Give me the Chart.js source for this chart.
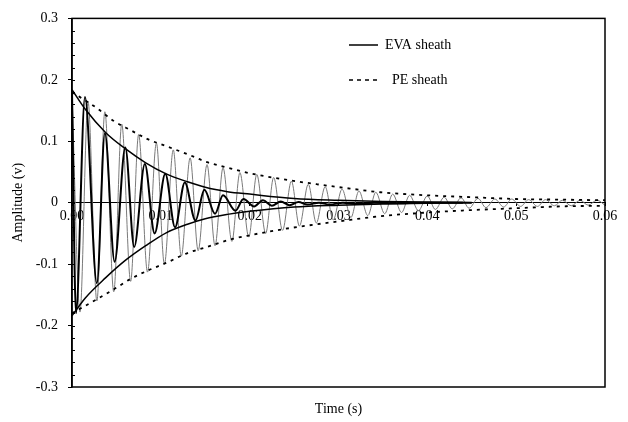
<!DOCTYPE html>
<html>
<head>
<meta charset="utf-8">
<script src="https://cdn.jsdelivr.net/npm/chart.js@4"></script>
<style>
  html, body { margin: 0; padding: 0; background: #fff; }
  #wrap { width: 628px; height: 422px; }
</style>
</head>
<body>
<div id="wrap"><canvas id="chart"></canvas></div>
<script>
// PE sheath signal, peaks and troughs (time s, amplitude v)
const peTime = [0, 0.0009, 0.0018, 0.0028, 0.0037, 0.0047, 0.0056, 0.0066, 0.0075, 0.0085,
  0.0095, 0.0104, 0.0114, 0.0123, 0.0133, 0.0142, 0.0152, 0.0161, 0.0170, 0.0180,
  0.0189, 0.0199, 0.0208, 0.0218, 0.0227, 0.0237, 0.0247, 0.0256, 0.0266, 0.0275,
  0.0285, 0.0294, 0.0304, 0.0314, 0.0323, 0.0333, 0.0342, 0.0352, 0.0361, 0.0371,
  0.0380, 0.0390, 0.0400, 0.0409, 0.0419, 0.0428, 0.0438, 0.0447, 0.0457, 0.0466,
  0.0476, 0.0486, 0.0495, 0.0505, 0.0514, 0.0524, 0.0533, 0.0543, 0.0552, 0.0562,
  0.0572, 0.0581, 0.0591, 0.0600];
const peAmp = [0.178, -0.178, 0.165, -0.160, 0.148, -0.145, 0.128, -0.128, 0.111, -0.113,
  0.097, -0.100, 0.086, -0.087, 0.073, -0.078, 0.062, -0.070, 0.057, -0.063,
  0.049, -0.056, 0.046, -0.050, 0.041, -0.045, 0.035, -0.038, 0.030, -0.033,
  0.026, -0.028, 0.022, -0.024, 0.019, -0.021, 0.017, -0.018, 0.014, -0.016,
  0.012, -0.013, 0.011, -0.011, 0.009, -0.010, 0.008, -0.009, 0.007, -0.008,
  0.006, -0.007, 0.006, -0.006, 0.005, -0.006, 0.005, -0.005, 0.004, -0.005,
  0.004, -0.004, 0.004, -0.004];

// EVA sheath signal
const evaTime = [0, 0.00045, 0.00146, 0.0028, 0.0037, 0.0048, 0.0060, 0.0070, 0.0082, 0.0093,
  0.0105, 0.0116, 0.0127, 0.0139, 0.0149, 0.0161, 0.0170, 0.0184, 0.0193, 0.0205,
  0.0215, 0.0225, 0.0235, 0.0245, 0.0255, 0.0265, 0.0278, 0.0290, 0.0305, 0.0320,
  0.0340, 0.0360, 0.0400, 0.0440];
const evaAmp = [0.180, -0.180, 0.172, -0.131, 0.113, -0.096, 0.090, -0.072, 0.063, -0.050,
  0.047, -0.040, 0.033, -0.029, 0.021, -0.018, 0.012, -0.013, 0.006, -0.006,
  0.004, -0.005, 0.002, -0.004, 0.001, -0.003, 0.000, -0.003, 0.000, -0.002,
  0.000, -0.001, 0.000, 0.000];

// envelopes
const evaEnvTime = [0, 0.0015, 0.0038, 0.006, 0.0083, 0.0106, 0.013, 0.015, 0.0175, 0.02, 0.025, 0.03, 0.035, 0.04, 0.045];
const evaEnvUp = [0.184, 0.152, 0.114, 0.088, 0.065, 0.047, 0.034, 0.025, 0.018, 0.014, 0.007, 0.004, 0.002, 0.001, 0.0005];
const evaEnvLow = [-0.184, -0.155, -0.122, -0.094, -0.070, -0.049, -0.035, -0.026, -0.019, -0.014, -0.007, -0.004, -0.002, -0.001, -0.0005];

const peEnvTime = [0, 0.0027, 0.0046, 0.0066, 0.0086, 0.0106, 0.013, 0.0152, 0.0178, 0.02, 0.0238, 0.0276, 0.0313, 0.0347, 0.04, 0.045, 0.05, 0.055, 0.06];
const peEnvUp = [0.180, 0.155, 0.134, 0.118, 0.103, 0.092, 0.079, 0.066, 0.056, 0.048, 0.038, 0.030, 0.023, 0.017, 0.012, 0.009, 0.006, 0.005, 0.004];
const peEnvLow = [-0.180, -0.158, -0.142, -0.124, -0.110, -0.098, -0.082, -0.072, -0.060, -0.053, -0.043, -0.035, -0.028, -0.022, -0.016, -0.012, -0.009, -0.006, -0.005];

const yTicks = [-0.3, -0.2, -0.1, 0, 0.1, 0.2, 0.3];
const xTicks = [0, 0.01, 0.02, 0.03, 0.04, 0.05, 0.06];

function pts(xs, ys) {
  return xs.map((x, i) => ({ x: x, y: ys[i] }));
}

const FONT = "'Liberation Serif', 'Times New Roman', serif";

// frame, minor ticks, x title and the in-plot legend
const decor = {
  id: 'decor',
  afterDraw(chart) {
    const ctx = chart.ctx;
    const a = chart.chartArea;
    const ys = chart.scales.y;
    ctx.save();
    ctx.strokeStyle = '#000';
    ctx.lineWidth = 1.5;
    ctx.strokeRect(a.left, a.top, a.right - a.left, a.bottom - a.top);
    ctx.lineWidth = 1;
    for (let v = -0.28; v < 0.3; v += 0.02) {
      const y = Math.round(ys.getPixelForValue(v)) + 0.5;
      ctx.beginPath();
      ctx.moveTo(a.left, y);
      ctx.lineTo(a.left + 3, y);
      ctx.stroke();
    }
    ctx.fillStyle = '#000';
    ctx.font = '14px ' + FONT;
    ctx.textAlign = 'center';
    ctx.textBaseline = 'middle';
    ctx.fillText('Time (s)', (a.left + a.right) / 2, 409);

    // legend
    ctx.textAlign = 'left';
    ctx.lineWidth = 1.5;
    ctx.beginPath();
    ctx.moveTo(349, 45);
    ctx.lineTo(378, 45);
    ctx.stroke();
    ctx.fillText('EVA sheath', 385, 45);
    ctx.setLineDash([4, 4]);
    ctx.beginPath();
    ctx.moveTo(349, 80);
    ctx.lineTo(378, 80);
    ctx.stroke();
    ctx.setLineDash([]);
    ctx.fillText('PE sheath', 392, 80);
    ctx.restore();
  }
};

new Chart(document.getElementById('chart'), {
  type: 'line',
  data: {
    datasets: [
      {
        label: 'EVA sheath',
        data: pts(evaTime, evaAmp),
        borderColor: '#000',
        borderWidth: 2,
        pointRadius: 0,
        cubicInterpolationMode: 'monotone',
        order: 1
      },
      {
        label: 'EVA envelope +',
        data: pts(evaEnvTime, evaEnvUp),
        borderColor: '#000',
        borderWidth: 1.5,
        pointRadius: 0,
        cubicInterpolationMode: 'monotone',
        order: 2
      },
      {
        label: 'EVA envelope -',
        data: pts(evaEnvTime, evaEnvLow),
        borderColor: '#000',
        borderWidth: 1.5,
        pointRadius: 0,
        cubicInterpolationMode: 'monotone',
        order: 2
      },
      {
        label: 'PE envelope +',
        data: pts(peEnvTime, peEnvUp),
        borderColor: '#000',
        borderWidth: 1.8,
        borderDash: [3, 5],
        pointRadius: 0,
        cubicInterpolationMode: 'monotone',
        order: 3
      },
      {
        label: 'PE envelope -',
        data: pts(peEnvTime, peEnvLow),
        borderColor: '#000',
        borderWidth: 1.8,
        borderDash: [3, 5],
        pointRadius: 0,
        cubicInterpolationMode: 'monotone',
        order: 3
      },
      {
        label: 'PE sheath',
        data: pts(peTime, peAmp),
        borderColor: '#7a7a7a',
        borderWidth: 1,
        pointRadius: 0,
        cubicInterpolationMode: 'monotone',
        order: 4
      }
    ]
  },
  options: {
    responsive: true,
    maintainAspectRatio: false,
    animation: false,
    layout: { padding: { top: 16, right: 23, bottom: 35, left: 0 } },
    plugins: {
      legend: { display: false },
      tooltip: { enabled: false }
    },
    scales: {
      x: {
        type: 'linear',
        position: { y: 0 },
        min: 0,
        max: 0.06,
        afterBuildTicks: s => { s.ticks = xTicks.map(v => ({ value: v })); },
        ticks: {
          color: '#000',
          font: { family: FONT, size: 14 },
          padding: 2,
          maxRotation: 0,
          callback: v => v.toFixed(2)
        },
        grid: { drawOnChartArea: false, tickLength: 3, color: '#000' },
        border: { color: '#000', width: 1 }
      },
      y: {
        type: 'linear',
        min: -0.3,
        max: 0.3,
        afterBuildTicks: s => { s.ticks = yTicks.map(v => ({ value: v })); },
        afterFit: s => { s.width = 72; },
        title: {
          display: true,
          text: 'Amplitude (v)',
          color: '#000',
          font: { family: FONT, size: 14 },
          padding: { top: 10, bottom: 0 }
        },
        ticks: {
          color: '#000',
          font: { family: FONT, size: 14 },
          padding: 10,
          callback: v => (Math.abs(v) < 1e-9 ? '0' : String(Math.round(v * 10) / 10))
        },
        grid: { drawOnChartArea: false, tickLength: 4, color: '#000' },
        border: { color: '#000', width: 1.5 }
      }
    }
  },
  plugins: [decor]
});
</script>
</body>
</html>
